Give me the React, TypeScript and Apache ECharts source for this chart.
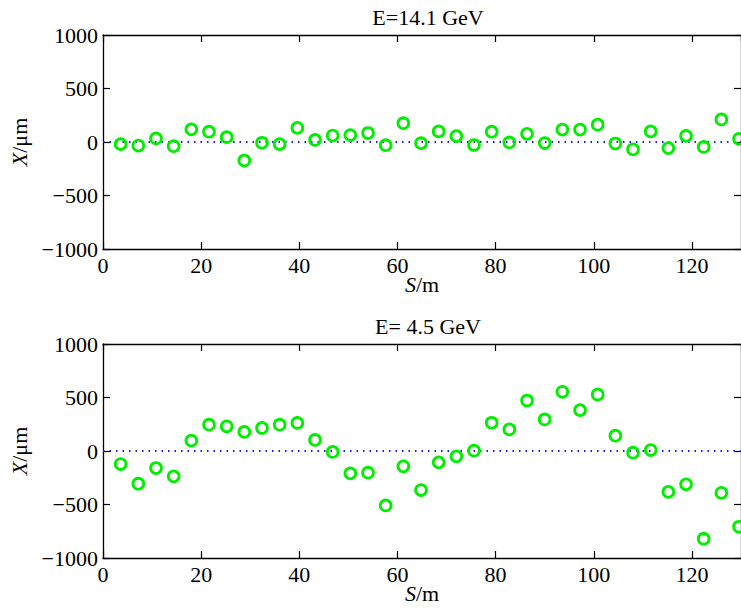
import React, { useEffect, useRef } from "react";
import * as echarts from "echarts";

// Beam position monitor locations along the line (m)
const sPositions = [
  3.6, 7.2, 10.8, 14.4, 18.0, 21.6, 25.2, 28.8, 32.4, 36.0, 39.6, 43.2,
  46.8, 50.4, 54.0, 57.6, 61.2, 64.8, 68.4, 72.0, 75.6, 79.2, 82.8, 86.4,
  90.0, 93.6, 97.2, 100.8, 104.4, 108.0, 111.6, 115.2, 118.8, 122.4, 126.0, 129.6,
];

// Orbit X (µm) at E = 14.1 GeV
const orbit14GeV = [
  -20, -33, 33, -39, 118, 96, 45, -173, -7, -20, 132, 19,
  60, 65, 84, -30, 176, -11, 99, 55, -28, 96, -4, 76,
  -10, 116, 116, 162, -14, -69, 99, -57, 57, -46, 211, 30,
];

// Orbit X (µm) at E = 4.5 GeV
const orbit45GeV = [
  -122, -306, -159, -237, 97, 246, 231, 178, 215, 246, 262, 103,
  -9, -209, -203, -509, -143, -365, -106, -50, 3, 264, 202, 472,
  295, 553, 382, 528, 143, -16, 9, -382, -311, -820, -391, -708,
];

const zeroLineS = [0, 130];
const zeroLineX = [0, 0];

const titles = ["E=14.1 GeV", "E= 4.5 GeV"];
const xRange = [0, 130];
const yRange = [-1000, 1000];
const xStep = 20;
const yStep = 500;

const FONT = "Liberation Serif";

const fmtY = (v: number) => (v < 0 ? "\u2212" + Math.abs(v) : String(v));

export default function App() {
  const ref = useRef<HTMLDivElement>(null);

  useEffect(() => {
    if (!ref.current) return;
    const chart = echarts.init(ref.current, null, { renderer: "svg" });

    const grids = [
      { left: 102, top: 35, width: 642, height: 214 },
      { left: 102, top: 344, width: 642, height: 214 },
    ];

    const axisLine = { show: true, onZero: false, lineStyle: { color: "#000", width: 1.3 } };
    const tick = { show: true, inside: true, length: 7, lineStyle: { color: "#000", width: 1.2 } };

    const xAxis: any[] = [];
    const yAxis: any[] = [];
    grids.forEach((_, g) => {
      xAxis.push({
        type: "value",
        gridIndex: g,
        position: "bottom",
        min: xRange[0],
        max: xRange[1],
        interval: xStep,
        axisLine,
        axisTick: tick,
        splitLine: { show: false },
        axisLabel: {
          show: true,
          showMaxLabel: false,
          margin: 5,
          color: "#000",
          fontFamily: FONT,
          fontSize: 22,
        },
        name: "{i|S}/m",
        nameLocation: "middle",
        nameGap: 24,
        nameMoveOverlap: false,
        nameTextStyle: {
          color: "#000",
          fontFamily: FONT,
          fontSize: 22,
          rich: {
            i: { fontStyle: "italic", fontFamily: FONT, fontSize: 22, color: "#000" },
          },
        },
      });
      xAxis.push({
        type: "value",
        gridIndex: g,
        position: "top",
        min: xRange[0],
        max: xRange[1],
        interval: xStep,
        axisLine,
        axisTick: tick,
        splitLine: { show: false },
        axisLabel: { show: false },
      });
      yAxis.push({
        type: "value",
        gridIndex: g,
        position: "left",
        min: yRange[0],
        max: yRange[1],
        interval: yStep,
        axisLine,
        axisTick: tick,
        splitLine: { show: false },
        axisLabel: {
          show: true,
          margin: 5,
          color: "#000",
          fontFamily: FONT,
          fontSize: 22,
          formatter: fmtY,
        },
        name: "{i|X}/\u03bcm",
        nameLocation: "middle",
        nameGap: 73,
        nameMoveOverlap: false,
        nameRotate: 90,
        nameTextStyle: {
          color: "#000",
          fontFamily: FONT,
          fontSize: 22,
          rich: {
            i: { fontStyle: "italic", fontFamily: FONT, fontSize: 22, color: "#000" },
          },
        },
      });
      yAxis.push({
        type: "value",
        gridIndex: g,
        position: "right",
        min: yRange[0],
        max: yRange[1],
        interval: yStep,
        axisLine,
        axisTick: tick,
        splitLine: { show: false },
        axisLabel: { show: false },
      });
    });

    const orbits = [orbit14GeV, orbit45GeV];
    const series: any[] = [];
    orbits.forEach((vals, g) => {
      series.push({
        type: "line",
        xAxisIndex: g * 2,
        yAxisIndex: g * 2,
        data: zeroLineS.map((s, i) => [s, zeroLineX[i]]),
        showSymbol: false,
        symbol: "none",
        silent: true,
        lineStyle: { color: "#1a1aff", width: 2, type: [1.5, 5] },
        z: 1,
      });
      series.push({
        type: "scatter",
        xAxisIndex: g * 2,
        yAxisIndex: g * 2,
        data: sPositions.map((s, i) => [s, vals[i]]),
        symbol: "circle",
        symbolSize: 10.8,
        clip: false,
        itemStyle: {
          color: "rgba(0,0,0,0)",
          borderColor: "#00ee00",
          borderWidth: 2.8,
          opacity: 1,
        },
        z: 3,
      });
    });

    chart.setOption({
      animation: false,
      backgroundColor: "#fff",
      textStyle: { fontFamily: FONT },
      title: titles.map((t, g) => ({
        text: t,
        left: 423,
        top: g === 0 ? 1 : 310,
        textAlign: "center",
        textStyle: { color: "#000", fontFamily: FONT, fontSize: 22, fontWeight: "normal" },
      })),
      grid: grids,
      xAxis,
      yAxis,
      series,
    });

    return () => chart.dispose();
  }, []);

  return (
    <div
      ref={ref}
      style={{ position: "absolute", left: 0, top: 0, width: 741, height: 611 }}
    />
  );
}
